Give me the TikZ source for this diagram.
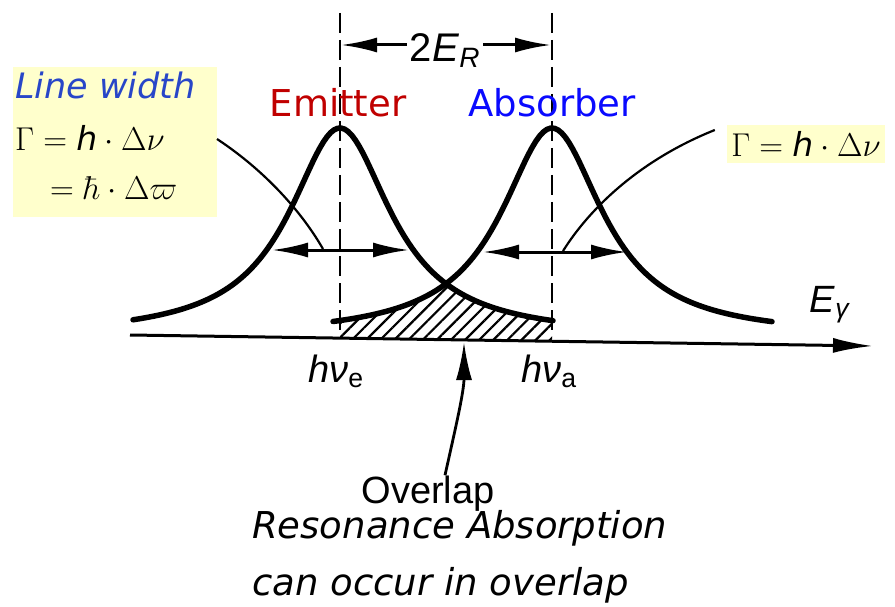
\RequirePackage{fix-cm}
\documentclass[tikz,border=0pt]{standalone}
\usepackage{amsmath}
\usepackage{fontspec}
\usetikzlibrary{arrows.meta,patterns.meta}
\newfontfamily\dejavu{DejaVu Sans}
\newfontfamily\helv{Liberation Sans}
\definecolor{emitred}{RGB}{192,0,0}
\definecolor{absblue}{RGB}{10,10,255}
\definecolor{lwblue}{RGB}{40,70,200}
\definecolor{noteyellow}{RGB}{255,255,204}

\begin{document}
\begin{tikzpicture}[x=1pt,y=-1pt,>={Latex[length=36pt,width=15pt]},
  profile/.style={line width=5.5pt,line cap=round},
  guide/.style={line width=2.8pt,dash pattern=on 20pt off 7pt},
  pointer/.style={line width=2.2pt},
  hw/.style={line width=3pt,<->},
  figtext/.style={font=\helv\fontsize{38}{44}\selectfont,inner sep=0pt},
  slidetext/.style={font=\dejavu\fontsize{37}{44}\selectfont,inner sep=0pt},
  formula/.style={font=\fontsize{33}{40}\selectfont,inner sep=0pt}]
  \useasboundingbox (0,0) rectangle (895,607);

  % notes on the left and right
  \fill[noteyellow] (13,67) rectangle (217,217);
  \coordinate (note) at (217,139);
  \node[slidetext,font=\dejavu\itshape\fontsize{35}{42}\selectfont,text=lwblue,anchor=base west] (lw) at (15,99) {Line width};
  \node[formula,anchor=base west] (g1) at (15,151) {$\Gamma = \text{\dejavu\itshape h}\cdot\Delta\nu$};
  \node[formula,anchor=base west] (g2) at (50,200) {$= \hbar\cdot\Delta\varpi$};
  \node[formula,fill=noteyellow,minimum width=158pt,minimum height=38pt] (g3) at (806,144) {$\Gamma = \text{\dejavu\itshape h}\cdot\Delta\nu$};

  % overlap of the two lines
  \fill[pattern={Lines[angle=45,distance=10pt,line width=2.2pt]}]
    plot[domain=340:446,samples=60] (\x,{337-209/(1+((\x-552)/62)^2)})
    -- plot[domain=446:552,samples=60] (\x,{337-209/(1+((\x-340)/62)^2)})
    -- (552,341) -- (340,338) -- cycle;

  % axis
  \coordinate (axl) at (130,335);
  \coordinate (axr) at (873,346);
  \draw[->,line width=3pt,>={Latex[length=40pt,width=15pt]}] (axl) -- (axr);
  \node[figtext,anchor=base] (eg) at (830,312) {\textit{E}\textsubscript{\textit{γ}}};

  % emission and absorption lines
  \foreach \c/\a/\b in {340/133/553,552/333/772}{
    \draw[guide] (\c,13) -- (\c,335);
    \draw[profile,domain=\a:\b,samples=120] plot (\x,{337-209/(1+((\x-\c)/62)^2)});
  }

  \node[slidetext,text=emitred,anchor=base] (em) at (338,117) {Emitter};
  \node[slidetext,text=absblue,anchor=base] (ab) at (552,117) {Absorber};

  % recoil shift
  \node[figtext,font=\helv\fontsize{40}{44}\selectfont] (er) at (445,51) {2\textit{E}\textsubscript{\textit{R}}};
  \coordinate (dl) at (341,45);
  \coordinate (dr) at (551,45);
  \draw[->,line width=3pt] ([xshift=-3pt]er.west |- dl) -- (dl);
  \draw[->,line width=3pt] ([xshift=3pt]er.east |- dr) -- (dr);

  % half widths
  \coordinate (el) at (272,250);
  \coordinate (eh) at (409,250);
  \coordinate (al) at (483,252);
  \coordinate (ah) at (627,252);
  \draw[hw] (el) -- (eh);
  \draw[hw] (al) -- (ah);
  \coordinate (ec) at (323,249);
  \coordinate (ac) at (563,251);
  \draw[pointer] (note) .. controls +(50,33) and +(-20,-35) .. (ec);
  \draw[pointer] ([shift={(-12pt,14pt)}]g3.west) .. controls +(-75,30) and +(27,-43) .. (ac);

  \node[figtext,anchor=base] (nue) at (336,382) {\textit{hν}\textsubscript{e}};
  \node[figtext,anchor=base] (nua) at (549,382) {\textit{hν}\textsubscript{a}};

  % overlap
  \node[figtext,anchor=base] (ov) at (428,503) {Overlap};
  \coordinate (ovtip) at (464,342);
  \draw[->,line width=2.8pt,>={Latex[length=38pt,width=16pt]}] ([xshift=17pt]ov.north) .. controls +(10,-45) and +(0,50) .. (ovtip);

  \node[slidetext,font=\dejavu\itshape\fontsize{37}{44}\selectfont,anchor=base west] (res1) at (252,538) {Resonance Absorption};
  \node[slidetext,font=\dejavu\itshape\fontsize{37}{44}\selectfont,anchor=base west] (res2) at (252,595) {can occur in overlap};
\end{tikzpicture}
\end{document}
